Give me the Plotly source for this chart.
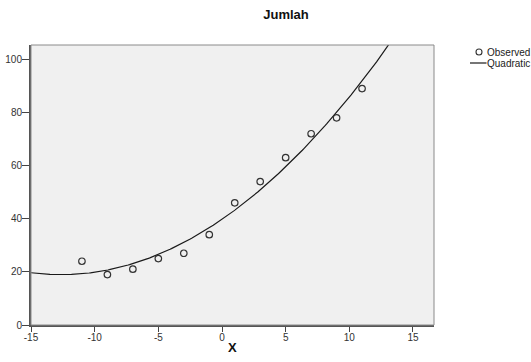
import numpy as np
import plotly.graph_objects as go

# Data
x_obs = [-11, -9, -7, -5, -3, -1, 1, 3, 5, 7, 9, 11]
y_obs = [24, 19, 21, 25, 27, 34, 46, 54, 63, 72, 78, 89]
x_ticks = [-15, -10, -5, 0, 5, 10, 15]
y_ticks = [0, 20, 40, 60, 80, 100]
legend_labels = ["Observed", "Quadratic"]
title_text = "Jumlah"
x_title = "X"

# Quadratic least-squares fit (as in SPSS curve estimation)
coef = np.polyfit(x_obs, y_obs, 2)
x_fit = np.linspace(-15, 16.7, 300)
y_fit = np.polyval(coef, x_fit)

FONT = "Liberation Sans, Arial, sans-serif"
W, H = 531, 362
L, R, T, B = 31, 434, 45, 325

fig = go.Figure()
fig.add_trace(go.Scatter(
    x=x_fit, y=y_fit, mode="lines", name=legend_labels[1],
    line=dict(color="#1a1a1a", width=1.2), showlegend=False, cliponaxis=True,
))
fig.add_trace(go.Scatter(
    x=x_obs, y=y_obs, mode="markers", name=legend_labels[0],
    marker=dict(symbol="circle-open", size=6.5, color="#333333", line=dict(width=1.2)),
    showlegend=False,
))

def px(xp):
    return (xp - L) / (R - L)

def py(yp):
    return (B - yp) / (B - T)

# plot frame (top/right lighter)
fig.add_shape(type="rect", xref="paper", yref="paper", x0=0, x1=1, y0=0, y1=1,
              line=dict(color="#8a8a8a", width=1), layer="above")

# manual legend
fig.add_shape(type="circle", xref="paper", yref="paper", xsizemode="pixel", ysizemode="pixel",
              xanchor=px(479), yanchor=py(52), x0=-3, x1=3, y0=-3, y1=3,
              line=dict(color="#333333", width=1.1))
fig.add_shape(type="line", xref="paper", yref="paper", x0=px(470), x1=px(486.5),
              y0=py(63), y1=py(63), line=dict(color="#1a1a1a", width=1.2))
fig.add_annotation(xref="paper", yref="paper", x=px(485), y=py(52), text=legend_labels[0],
                   showarrow=False, xanchor="left", yanchor="middle",
                   font=dict(family=FONT, size=10, color="#222222"))
fig.add_annotation(xref="paper", yref="paper", x=px(485), y=py(63), text=legend_labels[1],
                   showarrow=False, xanchor="left", yanchor="middle",
                   font=dict(family=FONT, size=10, color="#222222"))

# x-axis title
fig.add_annotation(xref="paper", yref="paper", x=px(232), y=py(347), text="<b>" + x_title + "</b>",
                   showarrow=False, xanchor="center", yanchor="middle",
                   font=dict(family=FONT, size=13, color="#111111"))

fig.update_layout(
    width=W, height=H,
    margin=dict(l=L, r=W - R, t=T, b=H - B, autoexpand=False),
    paper_bgcolor="white", plot_bgcolor="#f0f0f0",
    font=dict(family=FONT, size=9, color="#333333"),
    title=dict(text="<b>" + title_text + "</b>", xref="container", yref="container",
               x=286 / W, y=1 - 14 / H, xanchor="center", yanchor="middle",
               font=dict(family=FONT, size=13, color="#111111")),
    showlegend=False,
)
fig.update_xaxes(
    range=[-15, 16.65], tickvals=x_ticks, ticktext=[str(v) for v in x_ticks],
    showgrid=False, zeroline=False, automargin=False,
    showline=True, linecolor="#555555", linewidth=2,
    ticks="outside", ticklen=5, tickcolor="#444444", tickwidth=1,
    ticklabelstandoff=-3,
    tickfont=dict(family=FONT, size=10, color="#333333"),
)
fig.update_yaxes(
    range=[0, 105.4], tickvals=y_ticks, ticktext=[str(v) for v in y_ticks],
    showgrid=False, zeroline=False, automargin=False,
    showline=True, linecolor="#555555", linewidth=2,
    ticks="outside", ticklen=7, tickcolor="#444444", tickwidth=1,
    ticklabelstandoff=-2,
    tickfont=dict(family=FONT, size=10, color="#333333"),
)

fig.write_html(
    "out.html",
    config={"displayModeBar": False},
    post_script="document.body.style.margin='0';document.body.style.overflow='hidden';",
)
